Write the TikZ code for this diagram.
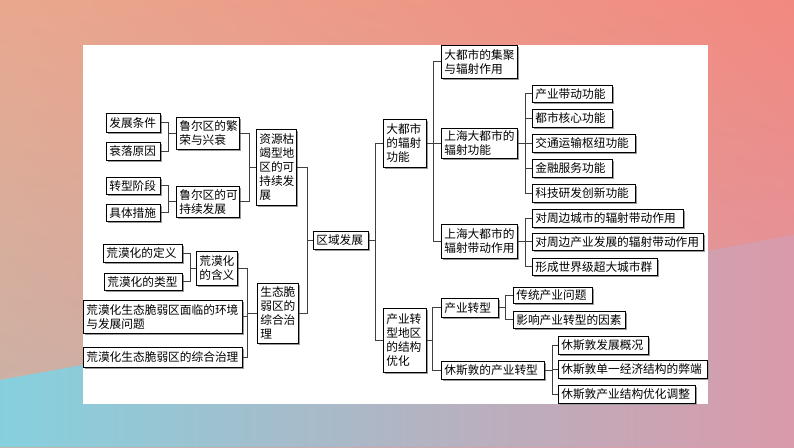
\documentclass[tikz,border=0pt]{standalone}
\usepackage{fontspec}
\newfontfamily\cjk{Noto Sans CJK SC}
\usetikzlibrary{shadows,shadings}
\definecolor{bgTL}{HTML}{E9A88E}
\definecolor{bgTR}{HTML}{F2897F}
\definecolor{bgBL}{HTML}{C8B2A8}
\definecolor{bgBR}{HTML}{DC98A8}
\definecolor{cyL}{HTML}{86D0DE}
\definecolor{cyR}{HTML}{DA9AAA}
\newcommand\bxn[6]{\node[bx,text width=#4pt,minimum height=#5pt] (#1) at (#2,#3) {#6};}
\begin{document}
\begin{tikzpicture}[x=1pt,y=-1pt,
  bx/.style={draw=black, line width=0.6pt, fill=white, inner xsep=3pt, inner ysep=1pt,
    align=left, anchor=north west, font=\cjk\fontsize{11.7}{14}\selectfont,
    drop shadow={shadow xshift=1.3pt, shadow yshift=-1.3pt, fill=black!40, opacity=1}},
  ln/.style={draw=black!75, line width=0.7pt}]
\useasboundingbox (0,0) rectangle (794,447);
% background
\shade[upper left=bgTL, upper right=bgTR, lower left=bgBL, lower right=bgBR] (0,0) rectangle (794,447);
\shade[left color=cyL, right color=cyR] (0,380) -- (794,235) -- (794,447) -- (0,447) -- cycle;
\fill[white] (83,45) rectangle (708,404);
% left tree
\bxn{n1}{106}{113}{48}{19}{发展条件}
\bxn{n2}{106}{142}{48}{18}{衰落原因}
\bxn{n3}{176}{117}{57}{32}{鲁尔区的繁\\荣与兴衰}
\bxn{n4}{106}{177}{48}{17}{转型阶段}
\bxn{n5}{106}{204}{48}{17}{具体措施}
\bxn{n6}{176}{186}{57}{31}{鲁尔区的可\\持续发展}
\bxn{n7}{256}{129}{34}{76}{资源枯\\竭型地\\区的可\\持续发\\展}
\bxn{n8}{103}{244}{73}{18}{荒漠化的定义}
\bxn{n9}{104}{273}{72}{17}{荒漠化的类型}
\bxn{n10}{196}{251}{35}{34}{荒漠化\\的含义}
\bxn{n11}{83}{300}{153}{33}{荒漠化生态脆弱区面临的环境\\与发展问题}
\bxn{n12}{83}{347}{153}{20}{荒漠化生态脆弱区的综合治理}
\bxn{n13}{257}{283}{35}{60}{生态脆\\弱区的\\综合治\\理}
\bxn{root}{313}{231}{49}{18}{区域发展}
% right tree
\bxn{m1}{383}{119}{37}{48}{大都市\\的辐射\\功能}
\bxn{m2}{441}{45}{70}{33}{大都市的集聚\\与辐射作用}
\bxn{m3}{441}{128}{70}{30}{上海大都市的\\辐射功能}
\bxn{m4}{441}{224}{70}{34}{上海大都市的\\辐射带动作用}
\bxn{m5}{532}{85}{74}{17}{产业带动功能}
\bxn{m6}{532}{109}{74}{18}{都市核心功能}
\bxn{m7}{532}{134}{97}{18}{交通运输枢纽功能}
\bxn{m8}{532}{159}{74}{18}{金融服务功能}
\bxn{m9}{532}{184}{97}{18}{科技研发创新功能}
\bxn{m10}{532}{209}{145}{18}{对周边城市的辐射带动作用}
\bxn{m11}{532}{233}{165}{17}{对周边产业发展的辐射带动作用}
\bxn{m12}{532}{258}{119}{17}{形成世界级超大城市群}
\bxn{m13}{383}{308}{37}{64}{产业转\\型地区\\的结构\\优化}
\bxn{m14}{441}{298}{51}{19}{产业转型}
\bxn{m15}{441}{361}{97}{18}{休斯敦的产业转型}
\bxn{m16}{513}{287}{73}{16}{传统产业问题}
\bxn{m17}{513}{311}{106}{17}{影响产业转型的因素}
\bxn{m18}{558}{336}{84}{18}{休斯敦发展概况}
\bxn{m19}{558}{360}{143}{18}{休斯敦单一经济结构的弊端}
\bxn{m20}{558}{385}{131}{18}{休斯敦产业结构优化调整}
% bars
\coordinate (bA) at (168,0);
\coordinate (bB) at (249,0);
\coordinate (bC) at (190,0);
\coordinate (bD) at (247,0);
\coordinate (bE) at (307,0);
\coordinate (bF) at (375,0);
\coordinate (bG) at (433,0);
\coordinate (bH) at (525,0);
\coordinate (bI) at (432,0);
\coordinate (bJ) at (505,0);
\coordinate (bK) at (552,0);
% left connectors
\foreach \c/\p/\b in {n1/n3/bA, n2/n3/bA, n4/n6/bA, n5/n6/bA, n3/n7/bB, n6/n7/bB,
  n8/n10/bC, n9/n10/bC, n10/n13/bD, n11/n13/bD, n12/n13/bD, n7/root/bE, n13/root/bE}
  \draw[ln] (\c.east) -- (\c.east -| \b) |- (\p.west);
% right connectors
\foreach \p/\c/\b in {root/m1/bF, root/m13/bF, m1/m2/bG, m1/m3/bG, m1/m4/bG,
  m3/m5/bH, m3/m6/bH, m3/m7/bH, m3/m8/bH, m3/m9/bH, m4/m10/bH, m4/m11/bH, m4/m12/bH,
  m13/m14/bI, m13/m15/bI, m14/m16/bJ, m14/m17/bJ, m15/m18/bK, m15/m19/bK, m15/m20/bK}
  \draw[ln] (\p.east) -- (\p.east -| \b) |- (\c.west);
\end{tikzpicture}
\end{document}
